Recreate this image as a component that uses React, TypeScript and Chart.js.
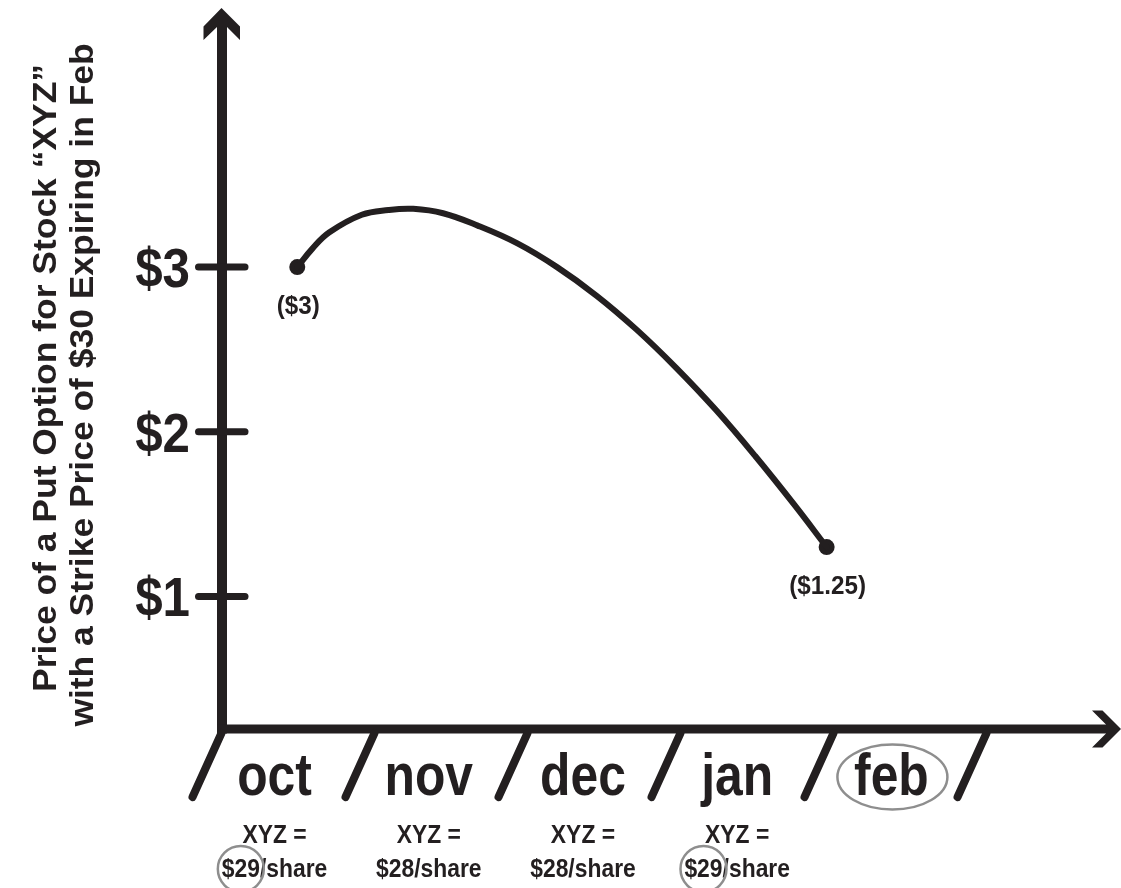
import React, { useEffect, useRef } from "react";
import { Chart, registerables } from "chart.js";

Chart.register(...registerables);

// ---- data ----
const months = ["oct", "nov", "dec", "jan", "feb"];
const stockPrices = [29, 28, 28, 29];
const priceCircled = [true, false, false, true];
const monthCircled = [false, false, false, false, true];

const curveX = [0.148, 0.245, 0.355, 0.568, 0.742, 0.903, 1.097, 1.323, 1.581, 1.839, 2.097, 2.355, 2.613, 2.871, 3.129, 3.387, 3.594];
const curveY = [3.0, 3.111, 3.21, 3.318, 3.347, 3.354, 3.327, 3.252, 3.144, 3.0, 2.826, 2.622, 2.39, 2.135, 1.853, 1.553, 1.3];

const markerX = [0.148, 3.594];
const markerY = [3.0, 1.3];
const markerLabels = ["($3)", "($1.25)"];

const yTicks = [1, 2, 3];
const yTickLabels = ["$1", "$2", "$3"];
const yTitle = ["Price of a Put Option for Stock \u201CXYZ\u201D", "with a Strike Price of $30 Expiring in Feb"];

const INK = "#231f20";
const GRAY = "#8e8e8e";
const FONT = "'Liberation Sans', Arial, sans-serif";

function drawText(ctx: CanvasRenderingContext2D, text: string, x: number, y: number, font: string, sx: number, align: CanvasTextAlign) {
  ctx.save();
  ctx.translate(x, y);
  ctx.scale(sx, 1);
  ctx.font = font;
  ctx.textAlign = align;
  ctx.textBaseline = "alphabetic";
  ctx.fillStyle = INK;
  ctx.fillText(text, 0, 0);
  ctx.restore();
}

const decorPlugin = {
  id: "decor",
  afterDatasetsDraw(chart: any) {
    const ctx: CanvasRenderingContext2D = chart.ctx;
    const xs = chart.scales.x;
    const ys = chart.scales.y;
    const area = chart.chartArea;
    const ax = area.left; // y-axis center
    const ay = area.bottom; // x-axis center
    ctx.save();
    ctx.fillStyle = INK;
    ctx.strokeStyle = INK;

    // y axis shaft + arrow
    ctx.fillRect(ax - 5, 27, 10, ay - 27 + 4.5);
    ctx.beginPath();
    ctx.moveTo(ax - 0.5, 8);
    ctx.lineTo(ax + 18, 26.5);
    ctx.lineTo(ax + 18, 40);
    ctx.lineTo(ax + 5, 27);
    ctx.lineTo(ax - 5, 27);
    ctx.lineTo(ax - 18.5, 40);
    ctx.lineTo(ax - 18.5, 26.5);
    ctx.closePath();
    ctx.fill();

    // x axis shaft + arrow
    ctx.fillRect(ax - 5, ay - 4.5, 1106 - (ax - 5), 9);
    ctx.beginPath();
    ctx.moveTo(1121, ay);
    ctx.lineTo(1102.5, ay - 18.5);
    ctx.lineTo(1092, ay - 18.5);
    ctx.lineTo(1106, ay - 4.5);
    ctx.lineTo(1106, ay + 4.5);
    ctx.lineTo(1092, ay + 18.5);
    ctx.lineTo(1102.5, ay + 18.5);
    ctx.closePath();
    ctx.fill();

    // y ticks and labels
    ctx.lineWidth = 7;
    ctx.lineCap = "round";
    yTicks.forEach((v, i) => {
      const py = ys.getPixelForValue(v);
      ctx.beginPath();
      ctx.moveTo(ax - 23.5, py);
      ctx.lineTo(ax + 23, py);
      ctx.stroke();
      drawText(ctx, yTickLabels[i], ax - 32, py + 20, `bold 56px ${FONT}`, 0.88, "right");
    });

    // slashes
    ctx.lineWidth = 8;
    for (let i = 0; i <= months.length; i++) {
      const top = xs.getPixelForValue(i * 0.996) - 53;
      ctx.beginPath();
      ctx.moveTo(top, ay + 4);
      ctx.lineTo(top - 29, ay + 68);
      ctx.stroke();
    }

    // month labels
    months.forEach((m, i) => {
      const cx = xs.getPixelForValue(i) + i * 0.6;
      drawText(ctx, m, cx, ay + 66, `bold 60px ${FONT}`, 0.83, "center");
      if (monthCircled[i]) {
        ctx.save();
        ctx.strokeStyle = GRAY;
        ctx.lineWidth = 2.5;
        ctx.beginPath();
        ctx.ellipse(cx + 1, ay + 48, 55, 32.5, 0, 0, Math.PI * 2);
        ctx.stroke();
        ctx.restore();
      }
    });

    // stock prices
    const subFont = `bold 26px ${FONT}`;
    const sSx = 0.88;
    stockPrices.forEach((p, i) => {
      const cx = xs.getPixelForValue(i) + i * 0.6;
      drawText(ctx, "XYZ =", cx, ay + 114, subFont, sSx, "center");
      const full = `$${p}/share`;
      drawText(ctx, full, cx, ay + 148, subFont, sSx, "center");
      if (priceCircled[i]) {
        ctx.save();
        ctx.font = subFont;
        const wFull = ctx.measureText(full).width * sSx;
        const wPart = ctx.measureText(`$${p}`).width * sSx;
        const left = cx - wFull / 2;
        ctx.strokeStyle = GRAY;
        ctx.lineWidth = 2.5;
        ctx.beginPath();
        ctx.arc(left + wPart / 2, ay + 140, 23, 0, Math.PI * 2);
        ctx.stroke();
        ctx.restore();
      }
    });

    // marker labels
    markerLabels.forEach((t, i) => {
      const px = xs.getPixelForValue(markerX[i]);
      const py = ys.getPixelForValue(markerY[i]);
      drawText(ctx, t, px + 1, py + 47, `bold 25px ${FONT}`, 0.97, "center");
    });

    // y title (two rotated lines)
    const titleFont = `bold 34px ${FONT}`;
    ctx.font = titleFont;
    const w0 = ctx.measureText(yTitle[0]).width;
    const stretch = 628 / w0;
    const baseX = [56, 93];
    const centerY = [378, 385];
    yTitle.forEach((t, i) => {
      ctx.save();
      ctx.translate(baseX[i], centerY[i]);
      ctx.rotate(-Math.PI / 2);
      ctx.scale(stretch, 1);
      ctx.font = titleFont;
      ctx.textAlign = "center";
      ctx.textBaseline = "alphabetic";
      ctx.fillStyle = INK;
      ctx.fillText(t, 0, 0);
      ctx.restore();
    });

    ctx.restore();
  },
};

export default function App() {
  const ref = useRef<HTMLCanvasElement | null>(null);
  useEffect(() => {
    if (!ref.current) return;
    const chart = new Chart(ref.current, {
      type: "line",
      data: {
        datasets: [
          {
            type: "line",
            data: curveX.map((x, i) => ({ x, y: curveY[i] })),
            borderColor: INK,
            borderWidth: 6,
            borderCapStyle: "round",
            pointRadius: 0,
            tension: 0.4,
            fill: false,
            clip: false as any,
          },
          {
            type: "scatter",
            data: markerX.map((x, i) => ({ x, y: markerY[i] })),
            backgroundColor: INK,
            borderColor: INK,
            borderWidth: 0,
            pointRadius: 8,
            clip: false as any,
          },
        ],
      },
      options: {
        animation: false,
        responsive: false,
        devicePixelRatio: 1,
        layout: { padding: { left: 222, right: 0, top: 0, bottom: 159 } },
        plugins: { legend: { display: false }, tooltip: { enabled: false } },
        scales: {
          x: { type: "linear", display: false, min: (222 - 275) / 155, max: (1121 - 275) / 155 },
          y: { type: "linear", display: false, min: 3 - (729 - 262) / 166.5, max: 3 + 262 / 166.5 },
        },
      },
      plugins: [decorPlugin],
    });
    return () => chart.destroy();
  }, []);
  return (
    <div style={{ position: "absolute", left: 0, top: 0, width: 1121, height: 888, background: "#fff" }}>
      <canvas ref={ref} width={1121} height={888} style={{ display: "block" }} />
    </div>
  );
}
